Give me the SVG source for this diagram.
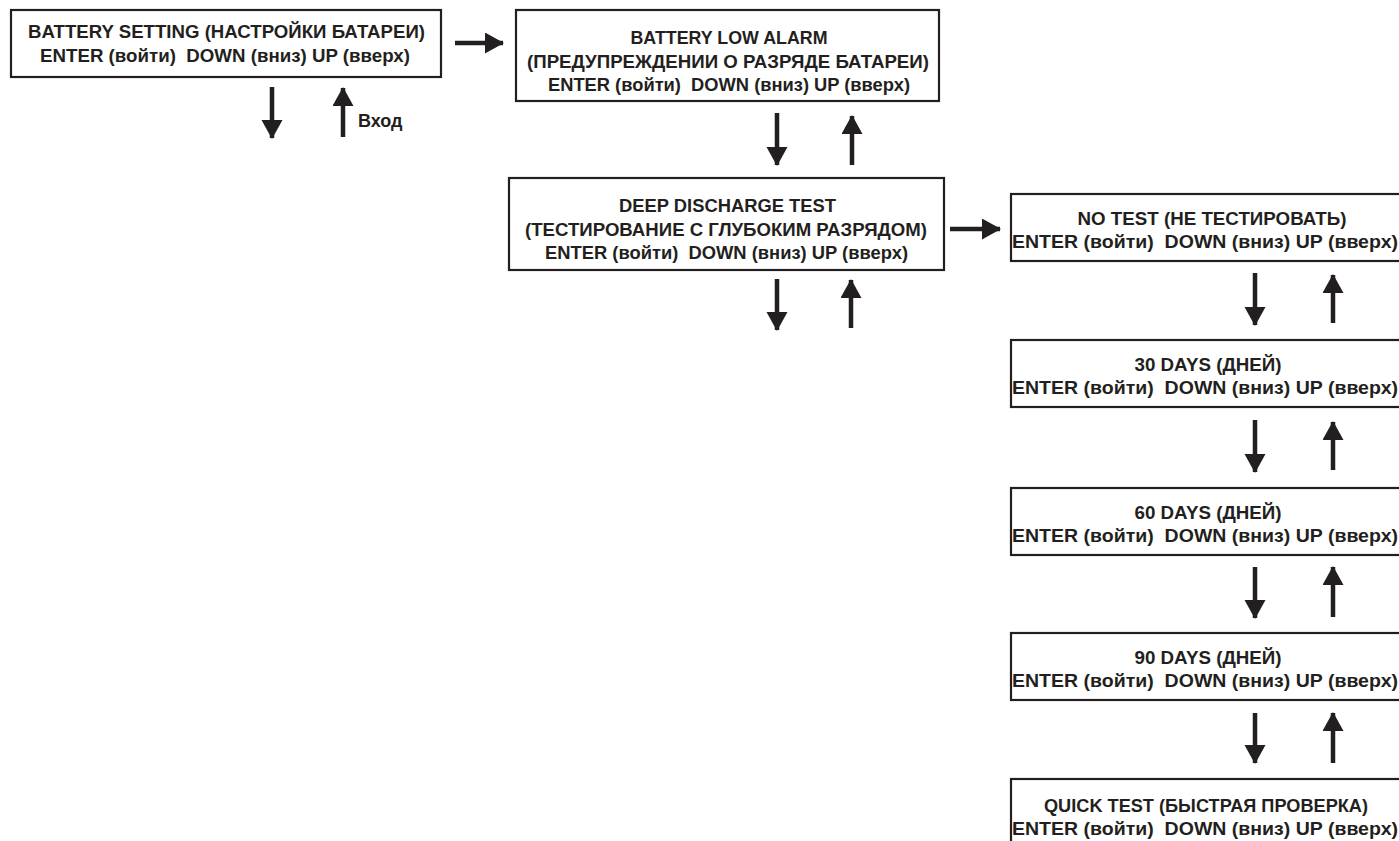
<svg xmlns="http://www.w3.org/2000/svg" width="1399" height="841" viewBox="0 0 1399 841">
<style>
.box{fill:#fff;stroke:#231f20;stroke-width:2.2}
.t{font-family:"Liberation Sans",Arial,sans-serif;font-weight:bold;font-size:18.5px;fill:#231f20;text-anchor:middle}
.lbl{font-family:"Liberation Sans",Arial,sans-serif;font-weight:bold;font-size:18px;fill:#231f20}
.ar{stroke:#231f20;stroke-width:4.5;fill:none;marker-end:url(#ah)}
</style>
<defs>
<marker id="ah" markerUnits="userSpaceOnUse" markerWidth="20" markerHeight="22" refX="18" refY="10.5" orient="auto">
<path d="M0,0 L19,10.5 L0,21 Z" fill="#231f20"/>
</marker>
</defs>
<rect width="1399" height="841" fill="#fff"/>
<g id="n1">
<rect class="box" x="11" y="10" width="430" height="67"/>
<text class="t" x="226.5" y="38" textLength="397" lengthAdjust="spacingAndGlyphs">BATTERY SETTING (НАСТРОЙКИ БАТАРЕИ)</text>
<text class="t" x="225" y="62" textLength="370" lengthAdjust="spacingAndGlyphs" xml:space="preserve">ENTER (войти)  DOWN (вниз) UP (вверх)</text>
</g>
<g id="n2">
<rect class="box" x="516" y="10" width="423" height="91"/>
<text class="t" x="729" y="44" textLength="197" lengthAdjust="spacingAndGlyphs">BATTERY LOW ALARM</text>
<text class="t" x="728" y="68" textLength="402" lengthAdjust="spacingAndGlyphs">(ПРЕДУПРЕЖДЕНИИ О РАЗРЯДЕ БАТАРЕИ)</text>
<text class="t" x="729" y="91" textLength="362" lengthAdjust="spacingAndGlyphs" xml:space="preserve">ENTER (войти)  DOWN (вниз) UP (вверх)</text>
</g>
<g id="n3">
<rect class="box" x="509" y="178" width="435" height="92"/>
<text class="t" x="727.5" y="212" textLength="217" lengthAdjust="spacingAndGlyphs">DEEP DISCHARGE TEST</text>
<text class="t" x="726" y="236" textLength="402" lengthAdjust="spacingAndGlyphs">(ТЕСТИРОВАНИЕ С ГЛУБОКИМ РАЗРЯДОМ)</text>
<text class="t" x="726.5" y="259" textLength="363" lengthAdjust="spacingAndGlyphs" xml:space="preserve">ENTER (войти)  DOWN (вниз) UP (вверх)</text>
</g>
<g id="n4">
<rect class="box" x="1011" y="194" width="392" height="67"/>
<text class="t" x="1212" y="225" textLength="269" lengthAdjust="spacingAndGlyphs">NO TEST (НЕ ТЕСТИРОВАТЬ)</text>
<text class="t" x="1205" y="248" textLength="386" lengthAdjust="spacingAndGlyphs" xml:space="preserve">ENTER (войти)  DOWN (вниз) UP (вверх)</text>
</g>
<g id="n5">
<rect class="box" x="1011" y="340" width="392" height="67"/>
<text class="t" x="1208" y="371" textLength="147" lengthAdjust="spacingAndGlyphs">30 DAYS (ДНЕЙ)</text>
<text class="t" x="1205" y="394" textLength="386" lengthAdjust="spacingAndGlyphs" xml:space="preserve">ENTER (войти)  DOWN (вниз) UP (вверх)</text>
</g>
<g id="n6">
<rect class="box" x="1011" y="488" width="392" height="67"/>
<text class="t" x="1208" y="519" textLength="147" lengthAdjust="spacingAndGlyphs">60 DAYS (ДНЕЙ)</text>
<text class="t" x="1205" y="542" textLength="386" lengthAdjust="spacingAndGlyphs" xml:space="preserve">ENTER (войти)  DOWN (вниз) UP (вверх)</text>
</g>
<g id="n7">
<rect class="box" x="1011" y="633" width="392" height="67"/>
<text class="t" x="1208" y="664" textLength="147" lengthAdjust="spacingAndGlyphs">90 DAYS (ДНЕЙ)</text>
<text class="t" x="1205" y="687" textLength="386" lengthAdjust="spacingAndGlyphs" xml:space="preserve">ENTER (войти)  DOWN (вниз) UP (вверх)</text>
</g>
<g id="n8">
<rect class="box" x="1011" y="779" width="392" height="67"/>
<text class="t" x="1206" y="812" textLength="324" lengthAdjust="spacingAndGlyphs">QUICK TEST (БЫСТРАЯ ПРОВЕРКА)</text>
<text class="t" x="1205" y="835" textLength="386" lengthAdjust="spacingAndGlyphs" xml:space="preserve">ENTER (войти)  DOWN (вниз) UP (вверх)</text>
</g>
<g id="connectors">
<path class="ar" d="M455,43 H503"/>
<path class="ar" d="M272,87 V138"/>
<path class="ar" d="M343,137 V88"/>
<path class="ar" d="M777,113 V165"/>
<path class="ar" d="M852,165 V116"/>
<path class="ar" d="M950,229 H1000"/>
<path class="ar" d="M777,279 V330"/>
<path class="ar" d="M851,328 V280"/>
<path class="ar" d="M1255,273 V325"/>
<path class="ar" d="M1333,323 V275"/>
<path class="ar" d="M1255,420 V472"/>
<path class="ar" d="M1333,470 V422"/>
<path class="ar" d="M1255,567 V618"/>
<path class="ar" d="M1333,617 V567"/>
<path class="ar" d="M1255,713 V763"/>
<path class="ar" d="M1333,763 V713"/>
<text class="lbl" x="358" y="127">Вход</text>
</g>
</svg>
